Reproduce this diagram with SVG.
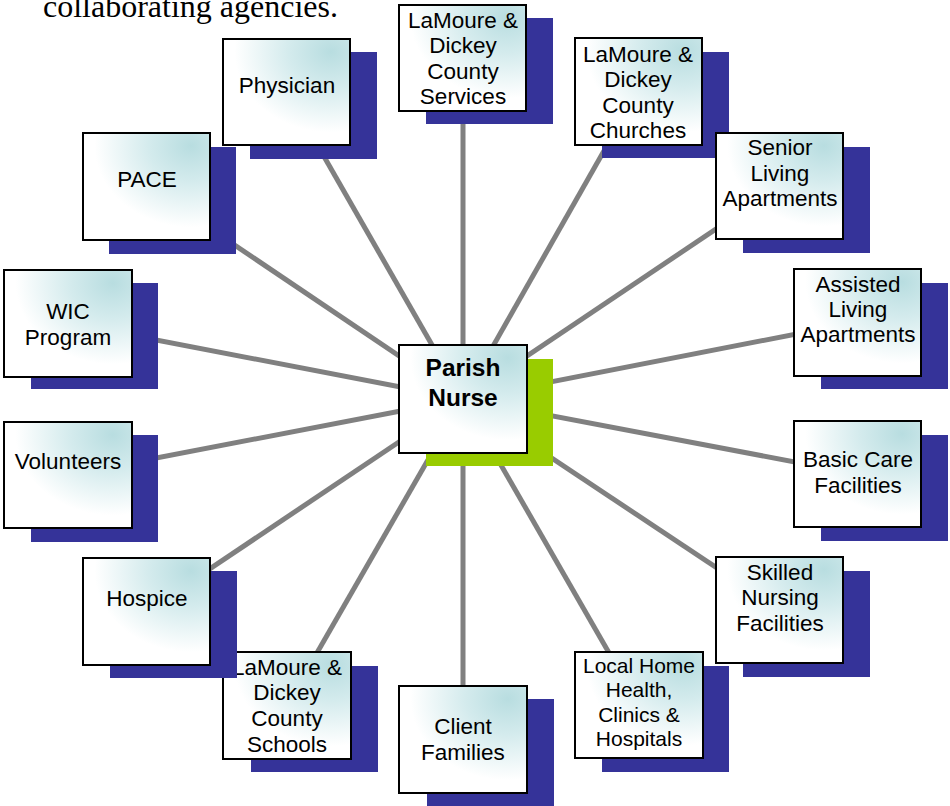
<svg xmlns="http://www.w3.org/2000/svg" width="950" height="806" viewBox="0 0 950 806">
<style>
.sh{fill:#353399}
.gsh{fill:#99CC00}
.bx{fill:url(#g);stroke:#000;stroke-width:2}
.t{font-family:"Liberation Sans",Arial,sans-serif;font-size:22.5px;fill:#000;text-anchor:middle}
.ts{font-size:21px}
.tb{font-family:"Liberation Sans",Arial,sans-serif;font-size:24.5px;font-weight:bold;fill:#000;text-anchor:middle}
.ln{stroke:#808080;stroke-width:5;fill:none}
.hd{font-family:"Liberation Serif","Times New Roman",serif;font-size:32px;fill:#000}
</style>
<defs>
<radialGradient id="g" cx="0.85" cy="0.12" r="0.95">
<stop offset="0" stop-color="#B8DDE0"/>
<stop offset="0.35" stop-color="#D4EBED"/>
<stop offset="0.8" stop-color="#FFFFFF"/>
</radialGradient>
</defs>
<rect width="950" height="806" fill="#fff"/>
<text class="hd" x="43" y="17">collaborating agencies.</text>
<g id="connectors">
<line class="ln" x1="463" y1="399" x2="463" y2="58"/>
<line class="ln" x1="463" y1="399" x2="638" y2="91"/>
<line class="ln" x1="463" y1="399" x2="780" y2="186"/>
<line class="ln" x1="463" y1="399" x2="858" y2="322"/>
<line class="ln" x1="463" y1="399" x2="858" y2="474"/>
<line class="ln" x1="463" y1="399" x2="780" y2="610"/>
<line class="ln" x1="463" y1="399" x2="639" y2="705"/>
<line class="ln" x1="463" y1="399" x2="463" y2="739"/>
<line class="ln" x1="463" y1="399" x2="287" y2="705"/>
<line class="ln" x1="463" y1="399" x2="147" y2="611"/>
<line class="ln" x1="463" y1="399" x2="68" y2="475"/>
<line class="ln" x1="463" y1="399" x2="68" y2="323"/>
<line class="ln" x1="463" y1="399" x2="147" y2="186"/>
<line class="ln" x1="463" y1="399" x2="287" y2="92"/>
</g>
<g id="services">
<rect class="sh" x="426" y="18" width="127" height="106"/>
<rect class="bx" x="399" y="5" width="127" height="106"/>
<text class="t" x="463" y="27.5">LaMoure &amp;</text>
<text class="t" x="463" y="53">Dickey</text>
<text class="t" x="463" y="78.5">County</text>
<text class="t" x="463" y="104">Services</text>
</g>
<g id="churches">
<rect class="sh" x="602" y="52" width="127" height="106"/>
<rect class="bx" x="575" y="38" width="127" height="107"/>
<text class="t" x="638" y="61.5">LaMoure &amp;</text>
<text class="t" x="638" y="87">Dickey</text>
<text class="t" x="638" y="112.5">County</text>
<text class="t" x="638" y="138">Churches</text>
</g>
<g id="senior">
<rect class="sh" x="743" y="147" width="127" height="106"/>
<rect class="bx" x="716" y="133" width="127" height="106"/>
<text class="t" x="780" y="155">Senior</text>
<text class="t" x="780" y="180.5">Living</text>
<text class="t" x="780" y="206">Apartments</text>
</g>
<g id="assisted">
<rect class="sh" x="821" y="283" width="127" height="106"/>
<rect class="bx" x="794" y="269" width="127" height="107"/>
<text class="t" x="858" y="291.5">Assisted</text>
<text class="t" x="858" y="317">Living</text>
<text class="t" x="858" y="342">Apartments</text>
</g>
<g id="basic">
<rect class="sh" x="821" y="435" width="127" height="106"/>
<rect class="bx" x="794" y="421" width="127" height="106"/>
<text class="t" x="858" y="467">Basic Care</text>
<text class="t" x="858" y="493">Facilities</text>
</g>
<g id="skilled">
<rect class="sh" x="743" y="571" width="127" height="106"/>
<rect class="bx" x="716" y="557" width="127" height="106"/>
<text class="t" x="780" y="579.5">Skilled</text>
<text class="t" x="780" y="605">Nursing</text>
<text class="t" x="780" y="630.5">Facilities</text>
</g>
<g id="localhome">
<rect class="sh" x="602" y="666" width="127" height="106"/>
<rect class="bx" x="575" y="652" width="128" height="106"/>
<text class="t ts" x="639" y="672.5">Local Home</text>
<text class="t ts" x="639" y="697">Health,</text>
<text class="t ts" x="639" y="721.5">Clinics &amp;</text>
<text class="t ts" x="639" y="746">Hospitals</text>
</g>
<g id="clientfamilies">
<rect class="sh" x="427" y="699" width="127" height="107"/>
<rect class="bx" x="399" y="686" width="128" height="107"/>
<text class="t" x="463" y="734">Client</text>
<text class="t" x="463" y="759.5">Families</text>
</g>
<g id="schools">
<rect class="sh" x="251" y="666" width="127" height="106"/>
<rect class="bx" x="223" y="652" width="128" height="107"/>
<text class="t" x="287" y="674.5">LaMoure &amp;</text>
<text class="t" x="287" y="700">Dickey</text>
<text class="t" x="287" y="725.5">County</text>
<text class="t" x="287" y="751.5">Schools</text>
</g>
<g id="hospice">
<rect class="sh" x="110" y="571" width="127" height="107"/>
<rect class="bx" x="83" y="558" width="127" height="107"/>
<text class="t" x="147" y="606">Hospice</text>
</g>
<g id="volunteers">
<rect class="sh" x="31" y="435" width="127" height="107"/>
<rect class="bx" x="4" y="422" width="128" height="106"/>
<text class="t" x="68" y="469">Volunteers</text>
</g>
<g id="wic">
<rect class="sh" x="31" y="283" width="127" height="106"/>
<rect class="bx" x="4" y="270" width="128" height="107"/>
<text class="t" x="68" y="318.5">WIC</text>
<text class="t" x="68" y="344.5">Program</text>
</g>
<g id="pace">
<rect class="sh" x="109" y="147" width="127" height="107"/>
<rect class="bx" x="83" y="133" width="127" height="107"/>
<text class="t" x="147" y="187">PACE</text>
</g>
<g id="physician">
<rect class="sh" x="250" y="52" width="127" height="107"/>
<rect class="bx" x="223" y="39" width="127" height="106"/>
<text class="t" x="287" y="93">Physician</text>
</g>
<g id="parishnurse">
<rect class="gsh" x="426" y="359" width="127" height="107"/>
<rect class="bx" x="399" y="345" width="128" height="108"/>
<text class="tb" x="463" y="376">Parish</text>
<text class="tb" x="463" y="406">Nurse</text>
</g>
</svg>
